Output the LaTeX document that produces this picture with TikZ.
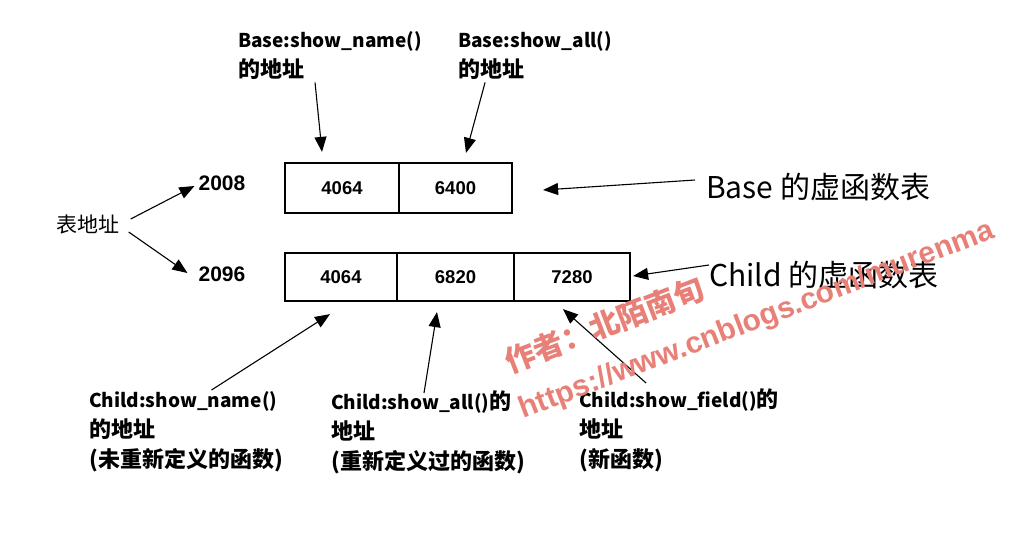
\documentclass[tikz,border=0pt]{standalone}
\usepackage{fontspec}
\setmainfont{Noto Sans CJK SC}
\newfontfamily\numfont{Liberation Sans}
\usetikzlibrary{arrows.meta}
\definecolor{wmark}{RGB}{232,128,120}
\newcommand\zh[1]{{\fontsize{22}{30}\selectfont #1}}
\tikzset{
  arr/.style={line width=1.1pt,-{Triangle[length=15pt,width=12pt]}},
  cell/.style={draw,line width=2.2pt,minimum height=#1,inner sep=0pt,font=\numfont\bfseries\fontsize{18.5}{20}\selectfont},
  lbl/.style={anchor=north west,align=left,inner sep=0pt,font=\bfseries\fontsize{19}{30}\selectfont},
  addr/.style={inner sep=0pt,font=\numfont\bfseries\fontsize{21}{24}\selectfont},
  tname/.style={anchor=west,inner sep=0pt,font=\fontsize{30}{34}\selectfont},
  wm/.style={text=wmark,rotate=21,inner sep=0pt,font=\bfseries\fontsize{30}{34}\selectfont}
}
\begin{document}
\begin{tikzpicture}[x=1pt,y=-1pt]
        \useasboundingbox[fill=white] (0,0) rectangle (1024,536);
        % the two tables
        \node[cell=50pt,minimum width=114pt] (b1) at (342,188) {4064};
        \node[cell=50pt,minimum width=113pt] (b2) at (455.5,188) {6400};
        \node[cell=48pt,minimum width=112pt] (c1) at (341,277) {4064};
        \node[cell=48pt,minimum width=117pt] (c2) at (455.5,277) {6820};
        \node[cell=48pt,minimum width=116pt] (c3) at (572,277) {7280};
        % table addresses
        \node[inner sep=0pt,font=\fontsize{21}{24}\selectfont] (tab) at (88,225) {表地址};
        \node[addr] (n2008) at (222,183) {2008};
        \node[addr] (n2096) at (222,274) {2096};
        \draw[arr] ([shift={(11,-6)}]tab.east) -- ([shift={(-4,3)}]n2008.west);
        \draw[arr] ([shift={(9,7)}]tab.east) -- ([shift={(-11,-1)}]n2096.west);
        % labels above
        \node[lbl] (bName) at (238,31) {Base:show\_name()\\\zh{的地址}};
        \node[lbl] (bAll) at (458,31) {Base:show\_all()\\\zh{的地址}};
        \draw[arr] ([shift={(-15,3)}]bName.south) -- ([shift={(-20,-10)}]b1.north);
        \draw[arr] ([shift={(-50,3)}]bAll.south) -- ([shift={(10.5,-9)}]b2.north);
        % table names
        \node[tname] (bTab) at (706,187) {Base 的虚函数表};
        \node[tname] (cTab) at (709,275) {Child 的虚函数表};
        \draw[arr] ([shift={(-11,-7)}]bTab.west) -- ([shift={(30,2)}]b2.east);
        \draw[arr] ([shift={(0,-10)}]cTab.west) -- ([shift={(2,-1)}]c3.east);
        % labels below
        \node[lbl] (cName) at (89,391) {Child:show\_name()\\\zh{的地址}\\\zh{(未重新定义的函数)}};
        \node[lbl] (cAll) at (331,390) {Child:show\_all()\zh{的}\\\zh{地址}\\\zh{(重新定义过的函数)}};
        \node[lbl] (cField) at (579,388) {Child:show\_field()\zh{的}\\\zh{地址}\\\zh{(新函数)}};
        \draw[arr] ([shift={(25.5,-1)}]cName.north) -- ([shift={(-11,12)}]c1.south);
        \draw[arr] ([shift={(-4,3)}]cAll.north) -- ([shift={(-18.5,10)}]c2.south);
        \draw[arr] ([shift={(-33,-5)}]cField.north) -- ([shift={(-9,7)}]c3.south);
        % watermark
        \node[wm] (wmA) at (604,325) {作者：北陌南旬};
        \node[wm] (wmB) at (757,321) {\numfont\bfseries https://www.cnblogs.com/murenma};
\end{tikzpicture}
\end{document}
